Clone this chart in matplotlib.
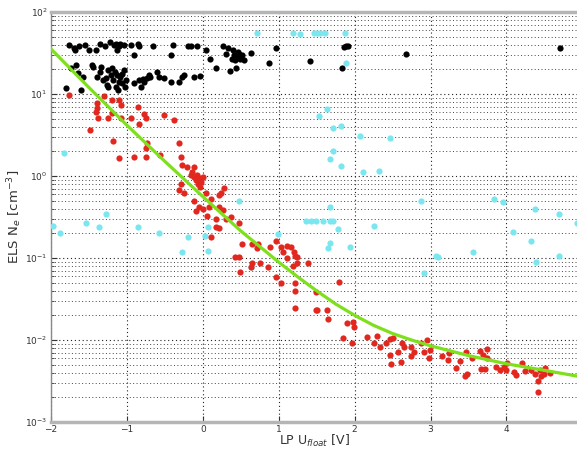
import numpy as np
import matplotlib
matplotlib.use('Agg')
import matplotlib.pyplot as plt
from matplotlib.ticker import LogLocator

# ELS density vs LP floating potential
black_x = [-1.76, -1.70, -1.68, -1.63, -1.55, -1.50, -1.41, -1.35, -1.29, -1.22, -1.17, -1.14, -1.13,
           -1.11, -1.09, -1.04, -0.95, -0.91, -0.86, -0.84, -0.66, -0.42, -0.39, -0.19, -0.16, -0.08,
           -1.80, -1.74, -1.67, -1.64, -1.61, -1.58, -1.46, -1.45, -1.39, -1.35, -1.34, -1.32, -1.28,
           -1.26, -1.25, -1.25, -1.21, -1.19, -1.18, -1.16, -1.14, -1.13, -1.12, -1.10, -1.09, -1.07,
           -1.06, -1.04, -1.01, -1.03, -0.90, -0.84, -0.82, -0.79, -0.77, -0.73, -0.71, -0.69, -0.60,
           -0.58, -0.51, -0.42, -0.31, -0.27, -0.25, -0.11, -0.04,
           0.04, 0.10, 0.17, 0.27, 0.30, 0.33, 0.36, 0.39, 0.40, 0.41, 0.43, 0.44, 0.46, 0.46, 0.48,
           0.49, 0.51, 0.54, 0.63, 0.87, 0.96, 1.41, 1.84, 1.86, 1.89, 1.91, 2.68, 4.71]
black_n = [40, 36, 34, 38, 40, 34, 34, 41, 38, 43, 40, 41, 34,
           38, 41, 40, 40, 30, 41, 38, 39, 30, 40, 39, 39, 38,
           11.7, 20.6, 22.6, 17.9, 11.2, 16.3, 22.6, 21.5, 16.3, 18.7, 21.5, 14.8, 15.5,
           12.9, 12.1, 19.6, 17.1, 20.6, 14.8, 18.7, 12.3, 17.1, 11.2, 14.1, 16.3, 17.5,
           13.5, 19.6, 14.8, 12.3, 13.5, 14.8, 12.3, 15.1, 14.1, 15.5, 17.1, 16.3, 18.7,
           16.3, 15.5, 14.1, 14.1, 16.3, 17.1, 16.3, 16.6,
           34, 27, 21, 38, 31, 36, 19, 27, 34, 30, 26, 21, 33, 28.5, 31,
           27, 30, 26, 32, 24, 36, 25, 21, 37, 38, 38.5, 30.5, 36]

cyan_x = [0.72, 1.19, 1.28, 1.46, 1.51, 1.55, 1.61, 1.87, 1.88, 1.63, 1.53, 1.71, 1.82, 2.07, 2.46,
          1.72, 1.68, 1.82, 2.11, 2.32, 0.48, 2.87, 3.83, 3.96, 4.38, 4.69, 4.93, 1.68, 1.36, 1.42,
          1.49, 1.59, 1.68, 1.72, 2.25, 1.78, 4.09, 4.33, 0.99, 0.07, 0.03, 0.07, 1.67, 1.65, 1.94,
          3.07, 3.10, 3.56, 4.69, 4.39, 2.91, 0.63, -1.83, -1.98, -1.88, -1.54, -1.37, -1.27, -0.85,
          -0.58, -0.28, -0.19]
cyan_n = [55, 55, 53.5, 55, 55, 55, 55, 55, 23.7, 6.5, 5.4, 3.8, 4.1, 3.1, 2.9,
          2.0, 1.6, 1.34, 1.13, 1.15, 0.50, 0.50, 0.525, 0.48, 0.40, 0.34, 0.27, 0.415, 0.285, 0.285,
          0.285, 0.285, 0.285, 0.285, 0.246, 0.226, 0.206, 0.161, 0.196, 0.237, 0.185, 0.122, 0.154,
          0.134, 0.137, 0.106, 0.102, 0.119, 0.106, 0.089, 0.066, 0.077, 1.92, 0.246, 0.200, 0.269,
          0.241, 0.344, 0.237, 0.200, 0.119, 0.179]

red_x = [-1.76, -1.39, -1.39, -1.41, -1.38, -1.30, -1.25, -1.20, -1.19, -1.10, -1.08, -1.08, -1.48,
         -1.18, -0.94, -0.85, -0.84, -0.78, -0.75, -0.73, -0.75, -0.51, -0.38, -0.31, -1.10, -0.91,
         -0.75, -0.56,
         -0.29, -0.27, -0.21, -0.14, -0.11, -0.15, -0.12, -0.09, -0.07, -0.05, -0.03, -0.06, 0.00,
         -0.04, -0.29, -0.31, -0.25, -0.11, -0.09, -0.05, 0.00, 0.04, 0.21, 0.24, 0.28, 0.08, 0.06,
         0.17, 0.30, 0.37, 0.21, 0.17, 0.11, 0.11, 0.21, 0.26,
         0.48, 0.52, 0.43, 0.48, 0.49, 0.65, 0.73, 0.72, 0.65, 0.63, 0.76, 0.89, 0.97, 1.03, 1.05,
         1.11, 1.16, 1.20, 1.21, 1.24, 1.24, 1.19, 1.11, 0.86, 0.97, 1.03, 1.21, 1.22, 1.39, 1.49,
         1.79, 1.22, 1.49, 1.51, 1.64, 1.65,
         1.90, 1.98, 1.99, 1.85, 1.97, 2.16, 2.25, 2.29, 2.34, 2.41, 2.46, 2.50, 2.47, 2.57, 2.63,
         2.65, 2.74, 2.78, 2.87, 2.96, 2.99, 2.98, 2.74, 2.61, 2.48, 2.91, 3.15, 3.24, 3.23, 3.34,
         3.39, 3.47, 3.55, 3.65, 3.69, 3.75, 3.75, 3.67, 3.72, 3.48, 3.45, 3.86, 3.92, 3.97, 4.01,
         4.00, 4.10, 4.12, 4.21, 4.25, 4.32, 4.38, 4.44, 4.45, 4.49, 4.51, 4.57, 4.42, 4.41]
red_n = [9.6, 7.7, 6.7, 6.1, 5.1, 9.5, 5.1, 5.8, 8.5, 8.5, 7.3, 5.1, 3.6,
         2.7, 5.1, 6.9, 4.3, 5.7, 5.1, 2.5, 2.2, 5.5, 4.8, 2.5, 1.64, 1.73,
         1.73, 1.80,
         1.72, 1.36, 1.30, 1.13, 1.28, 1.03, 0.96, 0.89, 1.03, 0.94, 0.85, 0.81, 0.96,
         0.74, 0.81, 0.68, 0.62, 0.49, 0.37, 0.42, 0.40, 0.62, 0.59, 0.62, 0.71, 0.42, 0.33,
         0.30, 0.30, 0.32, 0.23, 0.24, 0.18, 0.53, 0.42, 0.38,
         0.265, 0.148, 0.104, 0.102, 0.068, 0.148, 0.148, 0.131, 0.086, 0.077, 0.088, 0.137, 0.163,
         0.137, 0.117, 0.140, 0.135, 0.119, 0.106, 0.102, 0.086, 0.080, 0.099, 0.077, 0.059, 0.050,
         0.049, 0.040, 0.086, 0.039, 0.051, 0.0244, 0.0232, 0.0235, 0.0235, 0.0179,
         0.0160, 0.0167, 0.0143, 0.0105, 0.0093, 0.0110, 0.0093, 0.0113, 0.0083, 0.0093, 0.0102,
         0.0107, 0.0066, 0.0072, 0.0093, 0.0083, 0.0083, 0.0072, 0.0093, 0.0100, 0.0076, 0.0060,
         0.0063, 0.0054, 0.0051, 0.0072, 0.0063, 0.0070, 0.0057, 0.0045, 0.0056, 0.0072, 0.0060,
         0.0073, 0.0066, 0.0077, 0.0060, 0.0044, 0.0044, 0.0038, 0.0036, 0.0047, 0.0043, 0.0047,
         0.0052, 0.0043, 0.0041, 0.0037, 0.0053, 0.0042, 0.0043, 0.0039, 0.0043, 0.0036, 0.0039,
         0.0045, 0.0040, 0.0032, 0.0023]

# fit curve
fit_x = [-2.0, -1.5, -1.0, -0.5, 0.0, 0.5, 1.0, 1.25, 1.5, 1.75, 2.0, 2.25, 2.5, 2.75, 3.0,
         3.5, 4.0, 4.5, 4.93]
fit_n = [35.5, 12.0, 4.17, 1.51, 0.562, 0.214, 0.0891, 0.0589, 0.0398, 0.0275, 0.0200, 0.0151,
         0.0120, 0.0100, 0.0085, 0.00646, 0.00513, 0.00427, 0.00363]

fig = plt.figure(figsize=(5.77, 4.51), dpi=100)
ax = fig.add_axes([0.0884, 0.0643, 0.9116, 0.909])

ax.scatter(black_x, black_n, s=20, color='black', linewidths=0, zorder=3)
ax.scatter(cyan_x, cyan_n, s=20, color='#7ae6ef', linewidths=0, zorder=3)
ax.scatter(red_x, red_n, s=20, color='#e2271f', linewidths=0, zorder=4)
ax.plot(fit_x, fit_n, color='#7ee01c', lw=2.3, zorder=5)

ax.set_yscale('log')
ax.set_ylim(1e-3, 1e2)
ax.set_xlim(-2, 4.93)
ax.set_xticks([-2, -1, 0, 1, 2, 3, 4])
ax.yaxis.set_minor_locator(LogLocator(base=10, subs=np.arange(2, 10), numticks=20))

ax.grid(True, which='major', axis='both', ls=(0, (1, 2.5)), color='#222222', lw=0.8)
ax.grid(True, which='minor', axis='y', ls=(0, (1, 2.5)), color='#444444', lw=0.7)
ax.set_axisbelow(True)

for s in ['top', 'bottom']:
    ax.spines[s].set_color('#b5b5b5')
    ax.spines[s].set_linewidth(2.5)
ax.spines['left'].set_color('#888888')
ax.spines['left'].set_linewidth(1.0)
ax.spines['right'].set_visible(False)

ax.tick_params(which='both', direction='in', labelsize=6.5, colors='#333333')
ax.tick_params(which='major', length=4, pad=2.5)
ax.tick_params(which='minor', length=2)

ax.set_xlabel('LP U$_{float}$ [V]', fontsize=9, color='#333333', labelpad=-1)
ax.set_ylabel('ELS N$_e$ [cm$^{-3}$]', fontsize=9.5, color='#333333', labelpad=1)

fig.savefig('out.png', dpi=100)
